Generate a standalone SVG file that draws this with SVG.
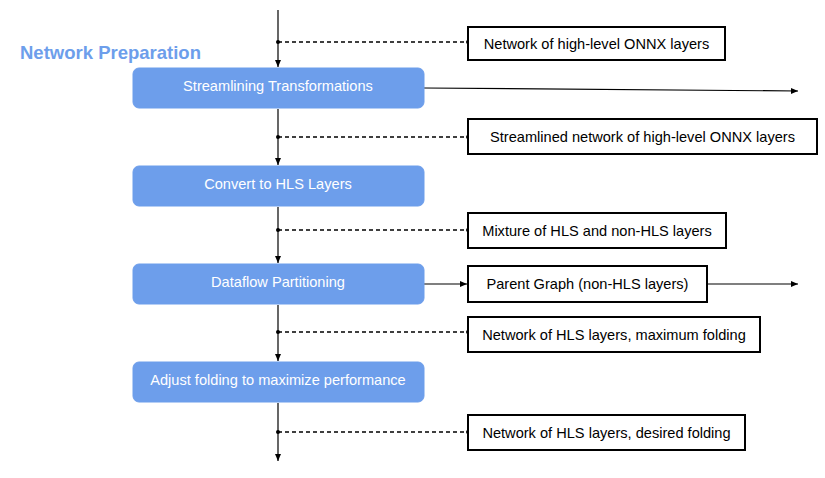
<svg xmlns="http://www.w3.org/2000/svg" width="825" height="478" viewBox="0 0 825 478">
<defs>
<marker id="arr" markerWidth="8" markerHeight="8" refX="7" refY="4" orient="auto" markerUnits="userSpaceOnUse"><path d="M0,1 L7,4 L0,7 Z" fill="#000"/></marker>
<style>
.step rect{fill:#6d9eeb;stroke:#6d9eeb;stroke-width:1}
.step text{fill:#fff;font-family:"Liberation Sans",Arial,sans-serif;font-size:14.6px;text-anchor:middle}
.data rect{fill:#fff;stroke:#000;stroke-width:2}
.data text{fill:#000;font-family:"Liberation Sans",Arial,sans-serif;font-size:14.6px;text-anchor:middle}
.solid{stroke:#000;stroke-width:1.2;fill:none}
.dash{stroke:#000;stroke-width:1.3;fill:none;stroke-dasharray:4,3}
.title{fill:#6d9eeb;font-family:"Liberation Sans",Arial,sans-serif;font-size:18.5px;font-weight:bold}
</style>
</defs>
<rect width="825" height="478" fill="#fff"/>
<text class="title" x="20" y="59">Network Preparation</text>
<g id="connectors">
<path class="solid" d="M278,10 V67" marker-end="url(#arr)"/>
<path class="solid" d="M278,109 V165" marker-end="url(#arr)"/>
<path class="solid" d="M278,207 V263" marker-end="url(#arr)"/>
<path class="solid" d="M278,305 V361" marker-end="url(#arr)"/>
<path class="solid" d="M278,403 V461" marker-end="url(#arr)"/>
<path class="solid" d="M424,88 L798,91" marker-end="url(#arr)"/>
<path class="solid" d="M424,284 H467" marker-end="url(#arr)"/>
<path class="solid" d="M707,284 H798" marker-end="url(#arr)"/>
<path class="dash" d="M278,42 H468"/>
<path class="dash" d="M278,137 H468"/>
<path class="dash" d="M278,230 H468"/>
<path class="dash" d="M278,332 H468"/>
<path class="dash" d="M278,432 H468"/>
<g fill="#000">
<circle cx="278" cy="42" r="2"/><circle cx="468" cy="42" r="2"/>
<circle cx="278" cy="137" r="2"/><circle cx="468" cy="137" r="2"/>
<circle cx="278" cy="230" r="2"/><circle cx="468" cy="230" r="2"/>
<circle cx="278" cy="332" r="2"/><circle cx="468" cy="332" r="2"/>
<circle cx="278" cy="432" r="2"/><circle cx="468" cy="432" r="2"/>
</g>
</g>
<g id="step1" class="step"><rect x="133" y="68" width="291" height="40" rx="6"/><text x="278" y="91">Streamlining Transformations</text></g>
<g id="step2" class="step"><rect x="133" y="166" width="291" height="40" rx="6"/><text x="278" y="189">Convert to HLS Layers</text></g>
<g id="step3" class="step"><rect x="133" y="264" width="291" height="40" rx="6"/><text x="278" y="287">Dataflow Partitioning</text></g>
<g id="step4" class="step"><rect x="133" y="362" width="291" height="40" rx="6"/><text x="278" y="385">Adjust folding to maximize performance</text></g>
<g id="data1" class="data"><rect x="468" y="27" width="257" height="33"/><text x="596.5" y="48.5">Network of high-level ONNX layers</text></g>
<g id="data2" class="data"><rect x="468" y="119" width="349" height="35"/><text x="642.5" y="141.5">Streamlined network of high-level ONNX layers</text></g>
<g id="data3" class="data"><rect x="468" y="213" width="258" height="35"/><text x="597" y="235.5">Mixture of HLS and non-HLS layers</text></g>
<g id="data4" class="data"><rect x="468" y="266" width="239" height="36"/><text x="587.5" y="289">Parent Graph (non-HLS layers)</text></g>
<g id="data5" class="data"><rect x="468" y="317" width="292" height="35"/><text x="614" y="339.5">Network of HLS layers, maximum folding</text></g>
<g id="data6" class="data"><rect x="468" y="415" width="277" height="35"/><text x="606.5" y="437.5">Network of HLS layers, desired folding</text></g>
</svg>
